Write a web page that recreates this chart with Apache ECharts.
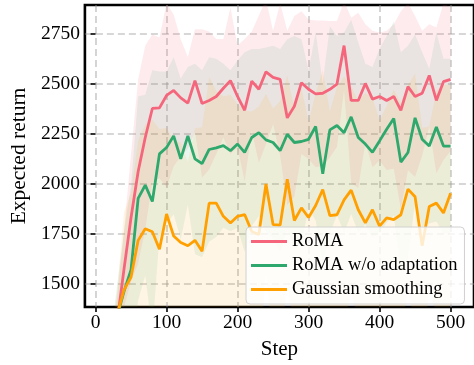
<!DOCTYPE html>
<html>
<head>
<meta charset="utf-8">
<script src="https://cdn.jsdelivr.net/npm/echarts@6/dist/echarts.min.js"></script>
<style>
html, body { margin: 0; padding: 0; background: #fff; }
#chart { width: 474px; height: 365px; }
</style>
</head>
<body>
<div id="chart"></div>
<script>
// training steps (x), one point every 10 steps
var steps = [0, 10, 20, 30, 40, 50, 60, 70, 80, 90, 100, 110, 120, 130, 140, 150, 160, 170, 180, 190,
	200, 210, 220, 230, 240, 250, 260, 270, 280, 290, 300, 310, 320, 330, 340, 350, 360, 370, 380, 390,
	400, 410, 420, 430, 440, 450, 460, 470, 480, 490, 500];

var romaMean = [600, 850, 1080, 1300, 1570, 1830, 2060, 2230, 2375, 2378, 2440, 2465, 2428, 2402, 2514, 2400, 2415, 2435, 2476, 2514,
	2435, 2366, 2512, 2471, 2558, 2530, 2520, 2328, 2386, 2504, 2471, 2448, 2451, 2471, 2497, 2689, 2415, 2415, 2500, 2422,
	2435, 2415, 2435, 2366, 2484, 2435, 2451, 2540, 2415, 2509, 2520];
var romaStd = [100, 100, 100, 120, 190, 320, 460, 460, 370, 352, 460, 380, 292, 230, 257, 371, 345, 287, 246, 366,
	255, 356, 248, 369, 362, 233, 382, 435, 451, 357, 349, 367, 364, 341, 315, 222, 413, 438, 296, 341,
	320, 348, 361, 495, 418, 402, 312, 256, 364, 393, 358];

var noAdaptMean = [650, 880, 1100, 1330, 1460, 1570, 1926, 1992, 1910, 2148, 2180, 2238, 2123, 2238, 2123, 2099, 2170, 2178, 2189, 2164,
	2197, 2156, 2230, 2254, 2218, 2205, 2164, 2246, 2205, 2210, 2221, 2285, 2049, 2268, 2290, 2254, 2333, 2230, 2197, 2156,
	2213, 2271, 2325, 2107, 2155, 2328, 2221, 2187, 2282, 2187, 2187];
var noAdaptStd = [100, 100, 100, 150, 300, 420, 510, 452, 656, 412, 380, 393, 402, 344, 476, 467, 461, 445, 410, 402,
	418, 500, 442, 418, 462, 483, 508, 475, 532, 511, 345, 470, 452, 518, 447, 501, 485, 475, 402, 426,
	459, 466, 485, 549, 533, 417, 435, 387, 472, 436, 436];

var gaussMean = [700, 900, 1120, 1340, 1467, 1533, 1716, 1774, 1759, 1672, 1848, 1738, 1705, 1689, 1716, 1661, 1902, 1902, 1836, 1803,
	1836, 1845, 1760, 1745, 1998, 1795, 1792, 2021, 1815, 1878, 1830, 1890, 1970, 1840, 1844, 1918, 1967, 1869, 1803, 1869,
	1787, 1828, 1820, 1844, 1972, 1934, 1689, 1885, 1902, 1853, 1951];
var gaussStd = [100, 100, 100, 110, 390, 420, 500, 520, 560, 600, 430, 480, 500, 420, 560, 620, 630, 560, 600, 640,
	560, 520, 600, 640, 450, 580, 620, 520, 560, 600, 480, 560, 600, 520, 640, 617, 520, 544, 650, 560,
	528, 560, 650, 560, 520, 616, 590, 400, 560, 640, 540];

var xTicks = [0, 100, 200, 300, 400, 500];
var yTicks = [1500, 1750, 2000, 2250, 2500, 2750];

var names = ['RoMA', 'RoMA w/o adaptation', 'Gaussian smoothing'];
var colors = ['#f5667c', '#2ea86c', '#ffa000'];
var bandColors = ['rgba(245,102,124,0.13)', 'rgba(46,168,108,0.10)', 'rgba(255,160,0,0.10)'];

var FONT = 'Liberation Serif';

function pairs(ys) {
	var out = [];
	for (var i = 0; i < steps.length; i++) out.push([steps[i], ys[i]]);
	return out;
}

// mean +/- std shaded region, drawn as one polygon through the axis scales
function bandSeries(mean, std, idx) {
	return {
		type: 'custom', name: 'band_' + idx, silent: true, clip: true, z: 1,
		data: [[steps[0], mean[0]]],
		encode: { x: 0, y: 1 },
		renderItem: function (params, api) {
			var pts = [];
			for (var i = 0; i < steps.length; i++) pts.push(api.coord([steps[i], mean[i] + std[i]]));
			for (var j = steps.length - 1; j >= 0; j--) pts.push(api.coord([steps[j], mean[j] - std[j]]));
			return {
				type: 'polygon', shape: { points: pts },
				style: { fill: bandColors[idx], stroke: null }
			};
		}
	};
}

function lineSeries(mean, idx) {
	return {
		name: names[idx], type: 'line', data: pairs(mean),
		symbol: 'none', z: 3,
		lineStyle: { color: colors[idx], width: 2.8 },
		itemStyle: { color: colors[idx] }
	};
}

var series = [
	bandSeries(romaMean, romaStd, 0),
	bandSeries(noAdaptMean, noAdaptStd, 1),
	bandSeries(gaussMean, gaussStd, 2),
	lineSeries(romaMean, 0),
	lineSeries(noAdaptMean, 1),
	lineSeries(gaussMean, 2)
];

var myChart = echarts.init(document.getElementById('chart'));
var option = {
	animation: false,
	textStyle: { fontFamily: FONT },
	grid: {
		left: 84, top: 5, width: 400, height: 309,
		show: true, borderColor: '#000', borderWidth: 2.6, backgroundColor: 'transparent'
	},
	legend: {
		data: names,
		orient: 'vertical',
		left: 246, top: 227,
		padding: [5, 7, 5, 5],
		itemGap: 5,
		itemWidth: 36, itemHeight: 3,
		itemTextGap: 13,
		icon: 'rect',
		backgroundColor: 'rgba(255,255,255,0.8)',
		borderColor: '#d0d0d0', borderWidth: 1, borderRadius: 4,
		textStyle: { fontFamily: FONT, fontSize: 18.5, color: '#000', lineHeight: 18.5 }
	},
	xAxis: {
		type: 'value', min: -15, max: 533,
		name: 'Step', nameLocation: 'middle', nameGap: 32,
		nameTextStyle: { fontFamily: FONT, fontSize: 21, color: '#000' },
		axisLine: { show: false },
		axisTick: { show: true, length: 5, customValues: xTicks, lineStyle: { color: '#000', width: 1.6 } },
		axisLabel: { customValues: xTicks, fontFamily: FONT, fontSize: 19.5, color: '#000', margin: 6,
			formatter: function (v) { return String(v); } },
		splitLine: { show: true, lineStyle: { color: 'rgba(150,150,150,0.5)', width: 1.6, type: [7, 4] } }
	},
	yAxis: {
		type: 'value', min: 1383, max: 2892,
		name: 'Expected return', nameLocation: 'middle', nameGap: 54,
		nameTextStyle: { fontFamily: FONT, fontSize: 21.5, color: '#000' },
		axisLine: { show: false },
		axisTick: { show: true, length: 5, customValues: yTicks, lineStyle: { color: '#000', width: 1.6 } },
		axisLabel: { customValues: yTicks, fontFamily: FONT, fontSize: 19.5, color: '#000', margin: 5,
			formatter: function (v) { return String(v); } },
		splitLine: { show: true, lineStyle: { color: 'rgba(150,150,150,0.5)', width: 1.6, type: [7, 4] } }
	},
	series: series
};
myChart.setOption(option);
</script>
</body>
</html>
